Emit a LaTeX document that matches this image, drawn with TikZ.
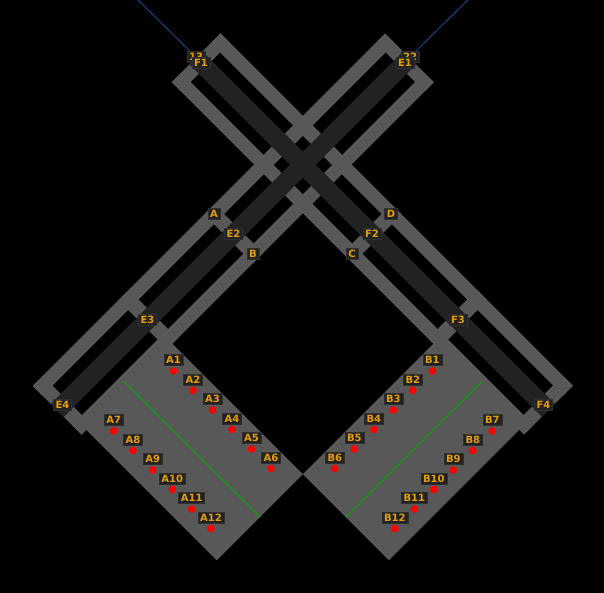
\documentclass[tikz,border=0pt]{standalone}
\usepackage{fontspec}
\usetikzlibrary{calc}
\setmainfont{DejaVu Sans}
\definecolor{framegray}{HTML}{585858}
\definecolor{stripdark}{HTML}{222222}
\definecolor{lblfill}{HTML}{222222}
\definecolor{lbledge}{HTML}{303030}
\definecolor{lbltext}{HTML}{E39E10}
\definecolor{greenline}{HTML}{149614}
\definecolor{blueline}{HTML}{1C4FA0}
\tikzset{
  sd/.style={x={(0.5pt,-0.5pt)},y={(0.5pt,0.5pt)}},
  lbl/.style={fill=lblfill,draw=lbledge,line width=0.5pt,text=lbltext,font=\bfseries\fontsize{10}{10}\selectfont,
    inner xsep=2.2pt,inner ysep=0pt,minimum height=11pt,text height=7.3pt,text depth=0pt},
  pin/.style={circle,fill=red,draw=none,minimum size=7.6pt,inner sep=0pt},
  axisline/.style={draw=greenline,line width=1.3pt},
  feed/.style={draw=blueline,line width=0.8pt}
}
% (s,d) rectangle in rotated coordinates: s=x+y, d=x-y
\newcommand{\sdbox}[5]{\fill[#1] (#2,#4) -- (#3,#4) -- (#3,#5) -- (#2,#5) -- cycle;}
\newcommand{\wingpanel}{\sdbox{framegray}{505}{777}{-343.5}{-171.5}}
\newcommand{\wingframe}{%
  \sdbox{framegray}{418.5}{438}{-353}{351.5}
  \sdbox{framegray}{497}{516}{-353}{351.5}
  \sdbox{framegray}{418.5}{516}{333}{351.5}
  \sdbox{framegray}{418.5}{516}{-353}{-333}
  \sdbox{framegray}{418.5}{516}{-10.5}{10}
  \sdbox{framegray}{418.5}{516}{-182}{-161}
  \sdbox{framegray}{418.5}{516}{167}{187}}
\newcommand{\wingstrip}{\sdbox{stripdark}{454.5}{480.5}{-353}{351.5}}
\begin{document}
\begin{tikzpicture}[x=1pt,y=-1pt]
\useasboundingbox (0,0) rectangle (604,593);
\fill[black] (0,0) rectangle (604,593);
% panels and frames
\begin{scope}[sd]\wingpanel\wingframe\end{scope}
\begin{scope}[sd,xshift=605.5pt,xscale=-1]\wingpanel\wingframe\end{scope}
\begin{scope}[sd]\wingstrip\end{scope}
\begin{scope}[sd,xshift=605.5pt,xscale=-1]\wingstrip\end{scope}
% green lines
\coordinate (gl1) at (124,381.7);
\coordinate (gl2) at (260,517.3);
\coordinate (gr1) at (481.7,381.7);
\coordinate (gr2) at (345.7,517.3);
\draw[axisline] (gl1) -- (gl2);
\draw[axisline] (gr1) -- (gr2);
% feed lines and their labels
\coordinate (fl) at (138,0);
\coordinate (fr) at (467.7,0);
\node[lbl] (n13) at (196,57) {13};
\node[lbl] (n22) at (410,57) {22};
\draw[feed] (fl) -- (n13);
\draw[feed] (fr) -- (n22);
% frame labels
\foreach \nm/\px/\py in {F1/201/62.5,E1/405/62.5,A/214/214,D/391/214,E2/233.5/234,F2/372/234,B/253/253.5,C/352/253.5,E3/147.5/319.5,F3/458/319.5,E4/62.5/405,F4/543.5/405}
  \node[lbl] (\nm) at (\px,\py) {\nm};
% pins
\foreach \nm/\px/\py in {A1/173.5/360,A2/193/379.5,A3/212.5/399,A4/232/418.5,A5/251.5/438,A6/271/457.5,A7/113.7/420,A8/133/439.5,A9/152.7/459,A10/172.3/478.5,A11/191.7/498,A12/211/517.5,
  B1/432.3/360,B2/412.8/379.5,B3/393.3/399,B4/373.8/418.5,B5/354.3/438,B6/334.8/457.5,B7/492.3/420,B8/472.8/439.5,B9/453.3/459,B10/433.8/478.5,B11/414.3/498,B12/394.8/517.5}{
  \node[lbl] (\nm) at (\px,\py) {\nm};
  \node[pin] (p\nm) at ($(\px,\py)+(0,11)$) {};
}
\end{tikzpicture}
\end{document}
